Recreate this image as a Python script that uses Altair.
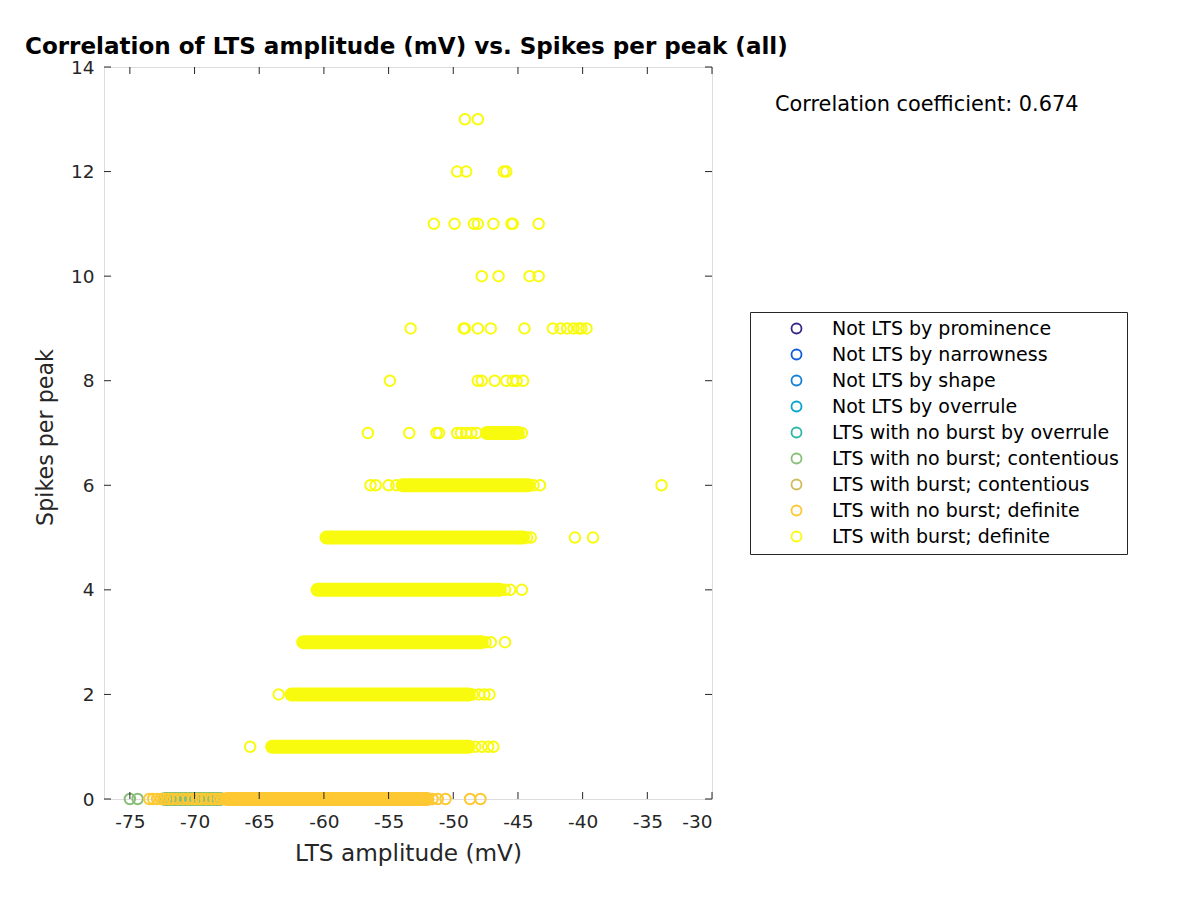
import altair as alt
import pandas as pd

# ---------------- data ----------------
group_labels = [
    "Not LTS by prominence",
    "Not LTS by narrowness",
    "Not LTS by shape",
    "Not LTS by overrule",
    "LTS with no burst by overrule",
    "LTS with no burst; contentious",
    "LTS with burst; contentious",
    "LTS with no burst; definite",
    "LTS with burst; definite",
]
group_colors = ["#352A87", "#0F5CDD", "#1481D6", "#06A4CA", "#2EB7A4",
                "#87BF77", "#D1BB59", "#FEC832", "#F9FB0E"]

x_ticks = [-75, -70, -65, -60, -55, -50, -45, -40, -35, -30]
y_ticks = [0, 2, 4, 6, 8, 10, 12, 14]

# spikes-per-peak = 0 (no burst)
contentious_nb_x = [-75.0, -74.4]
overrule_nb_x = [-71.3]
definite_nb_x = [-73.5, -73.2, -72.9, -72.6, -72.3, -72.0, -71.7, -71.3, -70.9,
                 -70.5, -70.1, -69.8, -69.5, -69.1, -68.7, -68.4, -68.1, -67.8,
                 -51.6, -51.2, -50.6, -48.7, -47.9]

# LTS with burst; definite, individual circles per spikes-per-peak row
burst_row1 = [-65.7, -48.3, -47.8, -47.3, -46.9]
burst_row2 = [-63.5, -48.5, -48.0, -47.6, -47.2]
burst_row3 = [-47.5, -47.1, -46.0]
burst_row4 = [-46.0, -45.6, -44.7]
burst_row5 = [-44.3, -44.0, -40.6, -39.2]
burst_row6 = [-56.4, -56.0, -55.0, -54.4, -43.8, -43.3, -33.9]
burst_row7 = [-56.6, -53.4, -51.3, -51.1, -49.7, -49.4, -49.0, -48.6, -48.2, -44.7]
burst_row8 = [-54.9, -48.1, -47.8, -46.8, -45.9, -45.4, -45.1, -44.6]
burst_row9 = [-53.3, -49.2, -49.1, -48.1, -47.1, -44.5, -42.3, -41.7, -41.2,
              -40.7, -40.3, -40.1, -39.7]
burst_row10 = [-47.8, -46.5, -44.1, -43.4]
burst_row11 = [-51.5, -49.9, -48.4, -48.1, -46.9, -45.5, -45.4, -43.4]
burst_row12 = [-49.7, -49.0, -46.1, -45.9]
burst_row13 = [-49.1, -48.1]

# densely packed runs of circles (group index, spikes per peak, first x, last x)
run_group = [5, 7, 8, 8, 8, 8, 8, 8, 8]
run_y = [0, 0, 1, 2, 3, 4, 5, 6, 7]
run_x_start = [-72.3, -67.5, -64.0, -62.5, -61.6, -60.5, -59.8, -53.9, -47.4]
run_x_end = [-68.0, -52.0, -48.8, -48.8, -47.8, -46.4, -44.6, -44.2, -45.0]

corr_text = "Correlation coefficient: 0.674"
title_text = "Correlation of LTS amplitude (mV) vs. Spikes per peak (all)"

# ---------------- tables ----------------
rows = []
for v in contentious_nb_x:
    rows.append((group_labels[5], v, 0))
for v in overrule_nb_x:
    rows.append((group_labels[4], v, 0))
for v in definite_nb_x:
    rows.append((group_labels[7], v, 0))
burst_rows = [burst_row1, burst_row2, burst_row3, burst_row4, burst_row5,
              burst_row6, burst_row7, burst_row8, burst_row9, burst_row10,
              burst_row11, burst_row12, burst_row13]
for i, lst in enumerate(burst_rows):
    for v in lst:
        rows.append((group_labels[8], v, i + 1))
points = pd.DataFrame(rows, columns=["group", "x", "y"])

runs = pd.DataFrame({
    "x": run_x_start,
    "x_end": run_x_end,
    "y": run_y,
    "hex": [group_colors[g] for g in run_group],
})

W, H = 608, 732
FONT = "DejaVu Sans"
AX = "#262626"

x_scale = alt.Scale(domain=[-77, -30], nice=False, zero=False)
y_scale = alt.Scale(domain=[0, 14], nice=False, zero=False)
x_axis = alt.Axis(values=x_ticks, title="LTS amplitude (mV)", grid=False, ticks=False,
                  domain=False, labelExpr="'' + datum.value", labelFontSize=18.5,
                  labelPadding=13, titleFontSize=23.2, titleFontWeight="normal",
                  titleBaseline="middle", titleY=54, titleColor=AX, labelColor=AX,
                  labelFont=FONT, titleFont=FONT)
y_axis = alt.Axis(values=y_ticks, title="Spikes per peak", grid=False, ticks=False,
                  domain=False, labelExpr="'' + datum.value", labelFontSize=18.5,
                  labelPadding=10, titleFontSize=22.2, titleFontWeight="normal",
                  titleBaseline="middle", titleX=-59, titleY=370, titleAngle=270,
                  titleColor=AX, labelColor=AX, labelFont=FONT, titleFont=FONT)

X = alt.X("x:Q", scale=x_scale, axis=x_axis)
Y = alt.Y("y:Q", scale=y_scale, axis=y_axis)

band_layer = alt.Chart(runs).mark_rule(strokeWidth=14, strokeCap="round").encode(
    x=X, x2="x_end:Q", y=Y, color=alt.Color("hex:N", scale=None)
)

point_layer = alt.Chart(points).mark_point(
    shape="circle", filled=False, size=110, strokeWidth=2, opacity=1
).encode(
    x=X, y=Y,
    color=alt.Color(
        "group:N",
        scale=alt.Scale(domain=group_labels, range=group_colors),
        sort=group_labels,
        legend=alt.Legend(
            orient="none", legendX=646, legendY=245, title=None,
            symbolType="circle", symbolSize=100, symbolStrokeWidth=1.8,
            labelFontSize=19, labelFont=FONT, labelColor="black",
            padding=7, strokeColor=AX, fillColor="white",
            symbolOffset=30, labelOffset=26, rowPadding=6, labelLimit=500,
        ),
    ),
)

xt = pd.DataFrame({"x": x_ticks})
yt = pd.DataFrame({"y": y_ticks})
xtick_bottom = alt.Chart(xt).mark_rule(color=AX).encode(x=X, y=alt.value(H), y2=alt.value(H - 7))
xtick_top = alt.Chart(xt).mark_rule(color=AX).encode(x=X, y=alt.value(0), y2=alt.value(7))
ytick_left = alt.Chart(yt).mark_rule(color=AX).encode(y=Y, x=alt.value(0), x2=alt.value(7))
ytick_right = alt.Chart(yt).mark_rule(color=AX).encode(y=Y, x=alt.value(W), x2=alt.value(W - 7))

corr_layer = alt.Chart(pd.DataFrame({"t": [corr_text]})).mark_text(
    align="left", baseline="middle", font=FONT, fontSize=20.85, color="black"
).encode(text="t:N", x=alt.value(671), y=alt.value(38))

title_layer = alt.Chart(pd.DataFrame({"t": [title_text]})).mark_text(
    align="left", baseline="alphabetic", font=FONT, fontSize=23.05,
    fontWeight="bold", color="black"
).encode(text="t:N", x=alt.value(-79), y=alt.value(-13))

chart = alt.layer(
    band_layer, point_layer, xtick_bottom, xtick_top, ytick_left, ytick_right,
    corr_layer, title_layer
).properties(
    width=W, height=H,
    autosize=alt.AutoSizeParams(type="none"),
    padding={"left": 96, "top": 59, "right": 478, "bottom": 91},
).configure_view(stroke=AX, strokeWidth=1).configure(background="white")

chart.save("out.html", embed_options={"renderer": "svg", "actions": False})
